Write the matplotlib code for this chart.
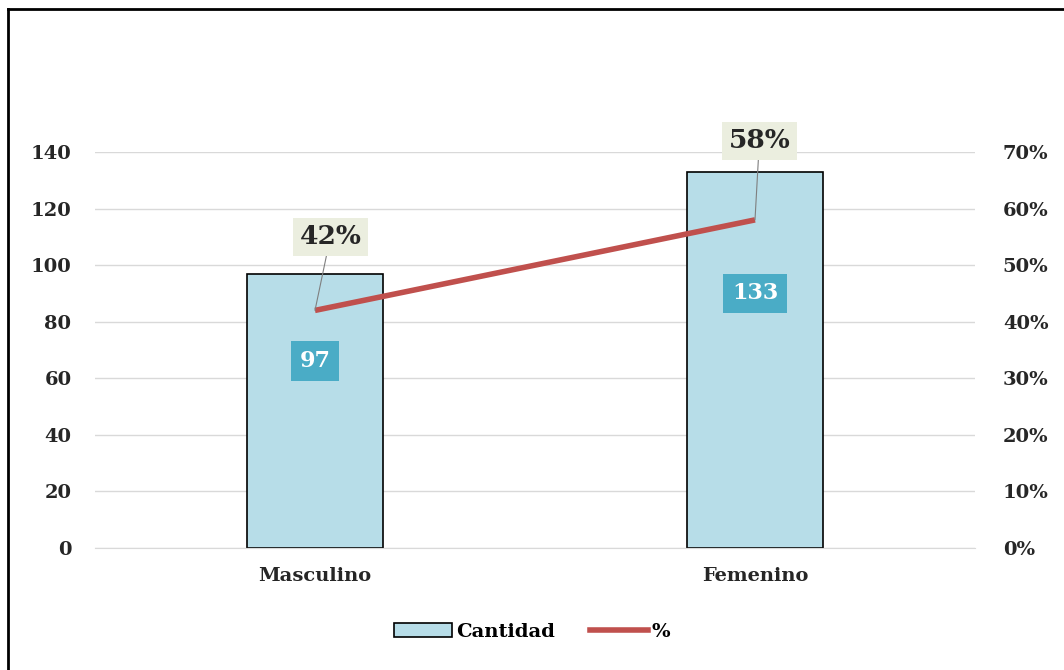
import matplotlib.pyplot as plt
from matplotlib.lines import Line2D
from matplotlib.patches import Patch

# data
categorias = ["Masculino", "Femenino"]
cantidad = [97, 133]
porcentaje = [0.42, 0.58]
left_ticks = [0, 20, 40, 60, 80, 100, 120, 140]
right_ticks = [0, 0.1, 0.2, 0.3, 0.4, 0.5, 0.6, 0.7]
right_labels = ["0%", "10%", "20%", "30%", "40%", "50%", "60%", "70%"]

plt.rcParams['font.family'] = ['DejaVu Serif']
plt.rcParams['font.weight'] = 'bold'

bar_color = "#b7dde8"
line_color = "#c0504d"
box_teal = "#4aacc6"
box_beige = "#ebeedf"
txt = "#262626"

fig = plt.figure(figsize=(10.64, 6.70), dpi=100)
ax = fig.add_axes([95 / 1064, 1 - 548 / 670, 880 / 1064, 396 / 670])
ax2 = ax.twinx()

x = list(range(len(categorias)))
ax.bar(x, cantidad, width=0.31, color=bar_color, edgecolor="black", linewidth=1.2, zorder=2)
ax.set_xlim(-0.5, 1.5)
ax.set_ylim(0, 140)
ax.set_yticks(left_ticks)
ax.set_xticks(x)
ax.set_xticklabels(categorias, fontsize=14, color=txt)
ax.tick_params(axis="y", length=0, pad=17, labelsize=14, labelcolor=txt)
ax.tick_params(axis="x", length=0, pad=14)
ax.grid(axis="y", color="#d9d9d9", linewidth=1, zorder=0)
ax.set_axisbelow(True)
for s in ax.spines.values():
    s.set_visible(False)
ax.spines["bottom"].set_visible(True)
ax.spines["bottom"].set_color("#d9d9d9")

ax2.plot(x, porcentaje, color=line_color, linewidth=4, solid_capstyle="butt", zorder=3)
ax2.set_ylim(0, 0.70)
ax2.set_yticks(right_ticks)
ax2.set_yticklabels(right_labels)
ax2.tick_params(axis="y", length=0, pad=20, labelsize=14, labelcolor=txt)
for s in ax2.spines.values():
    s.set_visible(False)

# count labels inside bars
for xi, v, yl in zip(x, cantidad, [66, 90]):
    ax.text(xi, yl, str(v), ha="center", va="center", fontsize=16, color="white",
            bbox=dict(boxstyle="square,pad=0.4", fc=box_teal, ec="none"), zorder=5)

# percent labels with leader lines
offsets = [(0.035, 0.55), (0.01, 0.72)]
for xi, p, (dx, ly) in zip(x, porcentaje, offsets):
    ax2.annotate(f"{round(p * 100)}%", xy=(xi, p), xytext=(xi + dx, ly),
                 ha="center", va="center", fontsize=19, color=txt,
                 bbox=dict(boxstyle="square,pad=0.25", fc=box_beige, ec="none"),
                 arrowprops=dict(arrowstyle="-", color="#7f7f7f", lw=0.8,
                                 shrinkA=0, shrinkB=0),
                 annotation_clip=False, zorder=6)

handles = [Patch(facecolor=bar_color, edgecolor="black", linewidth=1.2),
           Line2D([0], [0], color=line_color, linewidth=4)]
fig.legend(handles, ["Cantidad", "%"], loc="center", bbox_to_anchor=(0.5, 1 - 632 / 670),
           ncol=2, frameon=False, fontsize=14, handlelength=3, columnspacing=1.8,
           handletextpad=0.2)

# outer border (left and top only visible)
fig.add_artist(Line2D([8 / 1064, 8 / 1064], [0, 1 - 9 / 670], color="black", lw=2,
                      transform=fig.transFigure))
fig.add_artist(Line2D([8 / 1064, 1], [1 - 9 / 670, 1 - 9 / 670], color="black", lw=2,
                      transform=fig.transFigure))

fig.savefig("out.png", dpi=100, facecolor="white")
